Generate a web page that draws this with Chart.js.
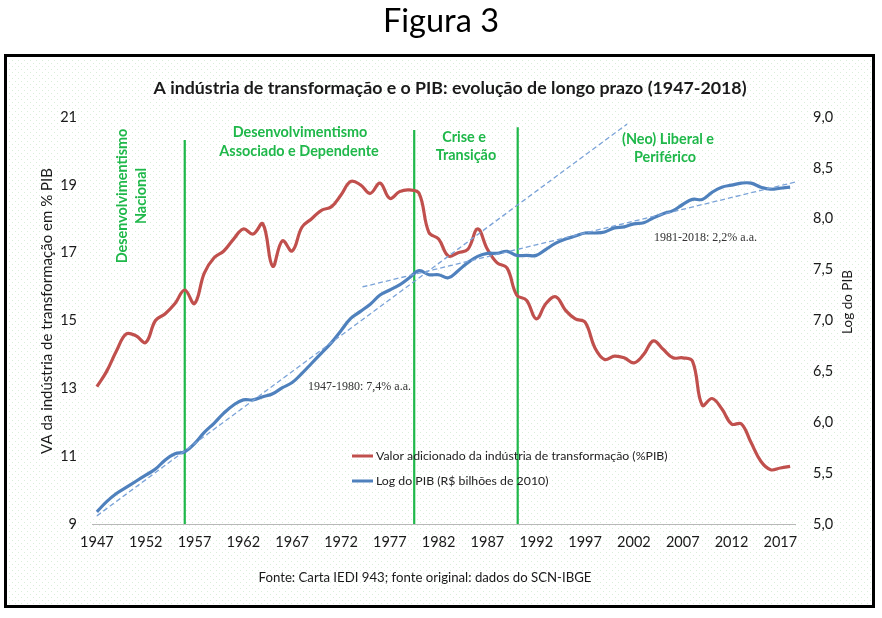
<!DOCTYPE html>
<html>
<head>
<meta charset="utf-8">
<script src="https://cdn.jsdelivr.net/npm/chart.js@4.4.1/dist/chart.umd.min.js"></script>
<style>
  html, body { margin: 0; padding: 0; background: #ffffff; }
  canvas { display: block; }
</style>
</head>
<body>
<canvas id="c" width="882" height="618"></canvas>
<script>
// ---------- DATA ----------
const years = [];
for (let y = 1947; y <= 2018; y++) years.push(y);

// Valor adicionado da indústria de transformação (% PIB) – left axis
const vaIndustria = [
  13.05, 13.5, 14.1, 14.6, 14.55, 14.35, 15.0, 15.2, 15.5, 15.9,
  15.5, 16.4, 16.85, 17.05, 17.4, 17.7, 17.55, 17.85, 16.6, 17.35,
  17.05, 17.75, 18.0, 18.25, 18.35, 18.7, 19.1, 19.0, 18.75, 19.05,
  18.6, 18.8, 18.85, 18.75, 17.6, 17.4, 16.9, 17.0, 17.1, 17.7,
  17.1, 16.7, 16.55, 15.75, 15.6, 15.05, 15.5, 15.7, 15.3, 15.05,
  14.95, 14.2, 13.85, 13.95, 13.9, 13.75, 14.0, 14.4, 14.15, 13.9,
  13.9, 13.8, 12.5, 12.7, 12.4, 11.95, 11.95, 11.4, 10.85, 10.6,
  10.65, 10.7
];

// Log do PIB (R$ bilhões de 2010) – right axis
const logPIB = [
  5.12, 5.22, 5.30, 5.36, 5.42, 5.48, 5.54, 5.63, 5.69, 5.71,
  5.79, 5.90, 5.99, 6.09, 6.17, 6.22, 6.22, 6.25, 6.28, 6.34,
  6.39, 6.48, 6.58, 6.68, 6.78, 6.90, 7.02, 7.09, 7.16, 7.25,
  7.30, 7.35, 7.42, 7.49, 7.45, 7.45, 7.42, 7.49, 7.57, 7.63,
  7.66, 7.66, 7.68, 7.64, 7.64, 7.64, 7.70, 7.76, 7.80, 7.83,
  7.86, 7.86, 7.87, 7.91, 7.92, 7.95, 7.96, 8.01, 8.05, 8.08,
  8.14, 8.19, 8.19, 8.26, 8.31, 8.33, 8.35, 8.35, 8.31, 8.29,
  8.30, 8.31
];

// Trend lines (log PIB)
const trend1X = [1947, 2001.3];   // 1947-1980: 7,4% a.a.
const trend1Y = [5.08, 8.93];
const trend2X = [1974.2, 2018.5]; // 1981-2018: 2,2% a.a.
const trend2Y = [7.33, 8.36];

// Period divisions (vertical lines) – x year, top value on left axis
const phaseX   = [1956, 1979.5, 1990.1];
const phaseTop = [20.32, 20.62, 20.7];
const phaseBottom = 9;

// Axis ticks
const xTickYears = [1947, 1952, 1957, 1962, 1967, 1972, 1977, 1982, 1987, 1992, 1997, 2002, 2007, 2012, 2017];
const leftTicks = { min: 9, max: 21, step: 2 };
const rightTicks = { min: 5, max: 9, step: 0.5 };

// ---------- STYLE ----------
const RED = '#C0504D';
const BLUE = '#4F81BD';
const TREND = '#7BA3D8';
const GREEN = '#1FB84A';
const TXT = '#1a1a1a';
const FONT = 'Lato, "Open Sans", sans-serif';

const toXY = (xs, ys) => xs.map((x, i) => ({ x: x, y: ys[i] }));

const datasets = [
  {
    label: 'Valor adicionado da indústria de transformação (%PIB)',
    data: toXY(years, vaIndustria),
    yAxisID: 'yL', borderColor: RED, borderWidth: 3.2, tension: 0.4,
    pointRadius: 0, fill: false, order: 2
  },
  {
    label: 'Log do PIB (R$ bilhões de 2010)',
    data: toXY(years, logPIB),
    yAxisID: 'yR', borderColor: BLUE, borderWidth: 3.2, tension: 0.4,
    pointRadius: 0, fill: false, order: 1
  },
  {
    label: 'trend1', data: toXY(trend1X, trend1Y), yAxisID: 'yR',
    borderColor: TREND, borderWidth: 1.3, borderDash: [5, 3], pointRadius: 0, order: 0
  },
  {
    label: 'trend2', data: toXY(trend2X, trend2Y), yAxisID: 'yR',
    borderColor: TREND, borderWidth: 1.3, borderDash: [5, 3], pointRadius: 0, order: 0
  }
];
phaseX.forEach((px, i) => {
  datasets.push({
    label: 'phase' + i,
    data: [{ x: px, y: phaseBottom }, { x: px, y: phaseTop[i] }],
    yAxisID: 'yL', borderColor: GREEN, borderWidth: 2.2, pointRadius: 0, order: 3
  });
});

// pattern for background
function makePattern(ctx) {
  const p = document.createElement('canvas');
  p.width = 6; p.height = 6;
  const pc = p.getContext('2d');
  pc.fillStyle = 'rgba(150, 205, 150, 0.35)';
  pc.fillRect(0, 0, 1, 1);
  pc.fillRect(3, 3, 1, 1);
  return ctx.createPattern(p, 'repeat');
}

const decor = {
  id: 'decor',
  beforeDraw(chart) {
    const ctx = chart.ctx;
    ctx.save();
    ctx.fillStyle = '#ffffff';
    ctx.fillRect(0, 0, chart.width, chart.height);
    ctx.fillStyle = makePattern(ctx);
    ctx.fillRect(8, 58, 864, 546);
    // frame
    ctx.strokeStyle = '#000';
    ctx.lineWidth = 3;
    ctx.strokeRect(5.5, 55.5, 868, 551);
    // Figure caption
    ctx.fillStyle = '#000';
    ctx.textAlign = 'center';
    ctx.textBaseline = 'middle';
    ctx.font = '32.5px ' + FONT;
    ctx.fillText('Figura 3', 441, 22);
    ctx.restore();
  },
  afterDraw(chart) {
    const ctx = chart.ctx;
    ctx.save();
    ctx.textBaseline = 'middle';
    ctx.textAlign = 'center';
    // title
    ctx.fillStyle = TXT;
    ctx.font = 'bold 17.8px ' + FONT;
    ctx.fillText('A indústria de transformação e o PIB: evolução de longo prazo (1947-2018)', 450, 88);
    // footer
    ctx.font = '13.2px ' + FONT;
    ctx.fillText('Fonte: Carta IEDI 943; fonte original: dados do SCN-IBGE', 425, 578);

    // axis titles
    ctx.font = '15px ' + FONT;
    ctx.save();
    ctx.translate(47, 311);
    ctx.rotate(-Math.PI / 2);
    ctx.fillText('VA da indústria de transformação em % PIB', 0, 0);
    ctx.restore();
    ctx.font = '13.5px ' + FONT;
    ctx.save();
    ctx.translate(848, 302);
    ctx.rotate(-Math.PI / 2);
    ctx.fillText('Log do PIB', 0, 0);
    ctx.restore();

    // period labels
    ctx.fillStyle = GREEN;
    ctx.font = 'bold 14.4px ' + FONT;
    ctx.fillText('Desenvolvimentismo', 300, 132);
    ctx.fillText('Associado e Dependente', 299, 151);
    ctx.fillText('Crise e', 464, 137);
    ctx.fillText('Transição', 466, 155);
    ctx.fillText('(Neo) Liberal e', 668, 139);
    ctx.fillText('Periférico', 665, 157);
    ctx.save();
    ctx.translate(122, 196);
    ctx.rotate(-Math.PI / 2);
    ctx.fillText('Desenvolvimentismo', 0, 0);
    ctx.fillText('Nacional', 0, 19);
    ctx.restore();

    // trend labels
    ctx.fillStyle = '#333';
    ctx.textAlign = 'left';
    ctx.font = '12px "Liberation Serif", serif';
    ctx.fillText('1947-1980: 7,4% a.a.', 308, 387);
    ctx.fillText('1981-2018: 2,2% a.a.', 654, 238);

    // legend
    ctx.lineWidth = 3;
    ctx.strokeStyle = RED;
    ctx.beginPath(); ctx.moveTo(352, 456); ctx.lineTo(373, 456); ctx.stroke();
    ctx.strokeStyle = BLUE;
    ctx.beginPath(); ctx.moveTo(352, 481); ctx.lineTo(373, 481); ctx.stroke();
    ctx.fillStyle = '#222';
    ctx.font = '12.3px ' + FONT;
    ctx.fillText('Valor adicionado da indústria de transformação (%PIB)', 376, 456);
    ctx.fillText('Log do PIB (R$ bilhões de 2010)', 376, 481);
    ctx.restore();
  }
};

new Chart(document.getElementById('c'), {
  type: 'line',
  data: { datasets: datasets },
  options: {
    responsive: false,
    animation: false,
    layout: { padding: { top: 117, left: 0, right: 0, bottom: 0 } },
    plugins: { legend: { display: false }, tooltip: { enabled: false }, title: { display: false } },
    scales: {
      x: {
        type: 'linear', position: 'bottom', min: 1946.5, max: 2018.5,
        afterBuildTicks: (axis) => { axis.ticks = xTickYears.map(v => ({ value: v })); },
        afterFit: (axis) => { axis.height = 94; },
        grid: { display: false, drawTicks: false },
        border: { display: true, color: '#b8b8b8', width: 1, dash: [2, 1] },
        ticks: { autoSkip: false, maxRotation: 0, padding: 10, color: TXT,
                 font: { family: FONT, size: 14.5 }, callback: (v) => String(v) }
      },
      yL: {
        type: 'linear', position: 'left', min: leftTicks.min, max: leftTicks.max,
        afterFit: (axis) => { axis.width = 92; },
        grid: { display: false, drawTicks: false }, border: { display: false },
        ticks: { stepSize: leftTicks.step, padding: 15, color: TXT, font: { family: FONT, size: 14.5 } }
      },
      yR: {
        type: 'linear', position: 'right', min: rightTicks.min, max: rightTicks.max,
        afterFit: (axis) => { axis.width = 87; },
        grid: { display: false, drawTicks: false }, border: { display: false },
        ticks: { stepSize: rightTicks.step, padding: 18, color: TXT, font: { family: FONT, size: 14.5 },
                 callback: (v) => v.toFixed(1).replace('.', ',') }
      }
    }
  },
  plugins: [decor]
});
</script>
</body>
</html>
